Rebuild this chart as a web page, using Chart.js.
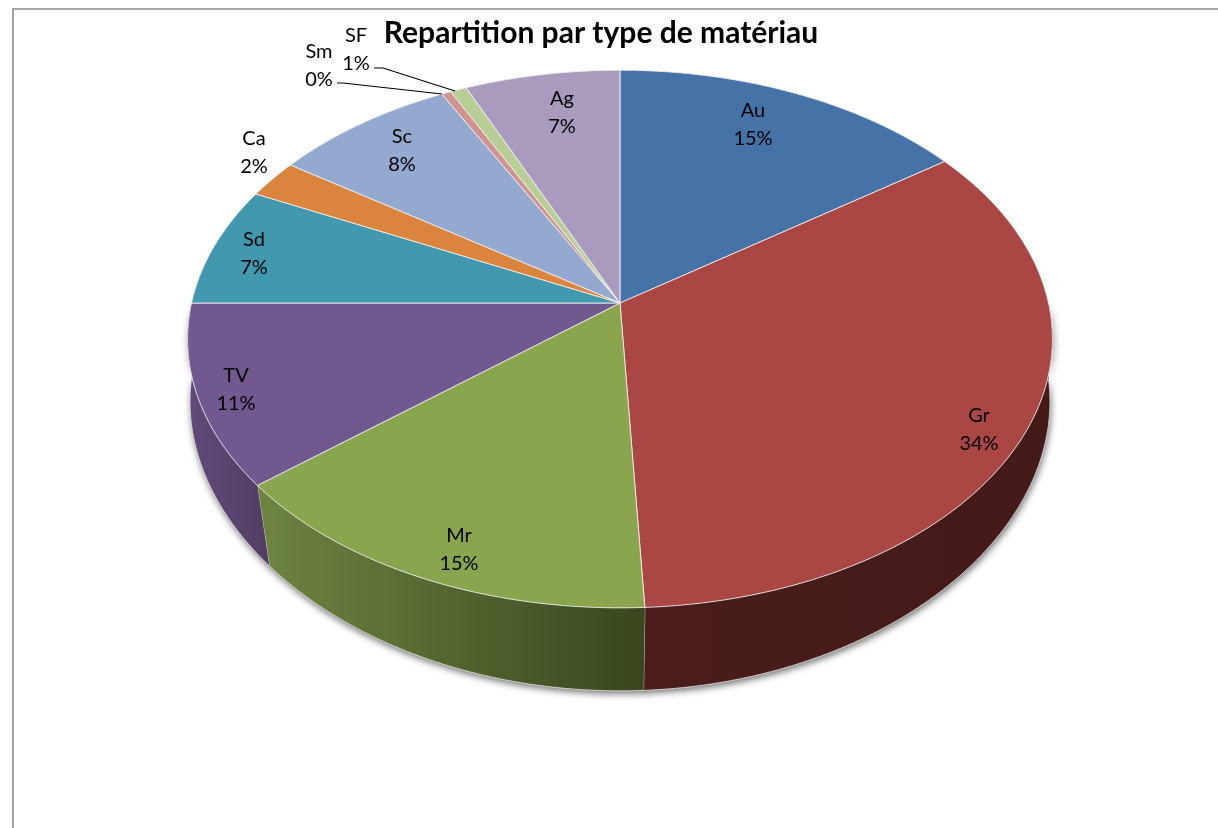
<!DOCTYPE html>
<html lang="fr">
<head>
  <meta charset="UTF-8" />
  <title>Repartition par type de matériau</title>
  <script src="https://cdn.jsdelivr.net/npm/chart.js"></script>
  <style>
    body { margin: 0; background: #fff; overflow: hidden; }
    #frame { position: absolute; left: 12px; top: 8px; right: 0; bottom: 0; border-left: 2px solid #a3a3a3; border-top: 2px solid #a3a3a3; }
    canvas { position: absolute; left: 0; top: 0; }
  </style>
</head>
<body>
  <div id="frame"></div>
  <canvas id="pie" width="1218" height="828"></canvas>

  <script>
    const categories = ['Au', 'Gr', 'Mr', 'TV', 'Sd', 'Ca', 'Sc', 'Sm', 'SF', 'Ag'];
    const shares = [15.2, 34.0, 14.9, 10.9, 7.2, 2.3, 7.8, 0.4, 0.7, 6.6];
    const topColors = ['#4572a7', '#aa4643', '#89a54e', '#71588f', '#4198af', '#db843d', '#93a9cf', '#d19392', '#b9cd96', '#a99bbd'];
    const sideLeft = ['#2c4669', '#4a1d1a', '#6d8340', '#5f4a78', '#28606f', '#8a5326', '#5c6a82', '#83605f', '#74815e', '#6a6177'];
    const sideRight = ['#2c4669', '#441a18', '#39461f', '#513d63', '#28606f', '#8a5326', '#5c6a82', '#83605f', '#74815e', '#6a6177'];

    // tilted disc: perspective on the unit circle
    const cx = 620, cy = 303, A = 428.5, B = 264, K = 0.134;

    function topPoint(t) {
      const X = Math.cos(t), Y = Math.sin(t), w = 1 - K * Y;
      return [cx + A * X / w, cy + B * Y / w];
    }
    function lowPoint(t) {
      const p = topPoint(t), Y = Math.sin(t);
      return [cx + (p[0] - cx) * (1 - 0.052 * Y), p[1] + 76 + 7 * Y];
    }

    // arcs are drawn on the tilted disc instead of a flat circle
    const Arc = Chart.registry.getElement('arc');
    Arc.prototype.draw = function (ctx) {
      const o = this.options;
      const n = Math.max(2, Math.ceil((this.endAngle - this.startAngle) * 60));
      ctx.beginPath();
      ctx.moveTo(cx, cy);
      for (let i = 0; i <= n; i++) {
        const p = topPoint(this.startAngle + (this.endAngle - this.startAngle) * i / n);
        ctx.lineTo(p[0], p[1]);
      }
      ctx.closePath();
      ctx.fillStyle = o.backgroundColor;
      ctx.fill();
      ctx.strokeStyle = o.borderColor;
      ctx.lineWidth = o.borderWidth;
      ctx.stroke();
    };

    function wallPath(ctx, a, b) {
      const n = Math.ceil((b - a) * 60);
      ctx.beginPath();
      for (let i = 0; i <= n; i++) {
        const p = topPoint(a + (b - a) * i / n);
        i ? ctx.lineTo(p[0], p[1]) : ctx.moveTo(p[0], p[1]);
      }
      for (let i = n; i >= 0; i--) {
        const p = lowPoint(a + (b - a) * i / n);
        ctx.lineTo(p[0], p[1]);
      }
      ctx.closePath();
    }

    const wallsPlugin = {
      id: 'walls',
      beforeDatasetsDraw(chart) {
        const ctx = chart.ctx;
        const arcs = chart.getDatasetMeta(0).data;
        const from = 0, to = Math.PI;

        // soft shadow under the whole side
        ctx.save();
        ctx.shadowColor = 'rgba(0,0,0,0.55)';
        ctx.shadowBlur = 7;
        ctx.shadowOffsetX = 1;
        ctx.shadowOffsetY = 3;
        ctx.fillStyle = '#444';
        wallPath(ctx, from, to);
        ctx.fill();
        ctx.restore();

        arcs.forEach((arc, i) => {
          const a = Math.max(arc.startAngle, from), b = Math.min(arc.endAngle, to);
          if (b <= a) return;
          const p1 = lowPoint(a), p2 = lowPoint(b);
          const g = ctx.createLinearGradient(Math.min(p1[0], p2[0]), 0, Math.max(p1[0], p2[0]), 0);
          g.addColorStop(0, sideLeft[i]);
          g.addColorStop(1, sideRight[i]);
          ctx.fillStyle = g;
          wallPath(ctx, a, b);
          ctx.fill();

          // light edge along the bottom rim and at the slice corners
          ctx.strokeStyle = 'rgba(235,235,235,0.8)';
          ctx.lineWidth = 1;
          ctx.beginPath();
          const n = Math.ceil((b - a) * 60);
          for (let k = 0; k <= n; k++) {
            const p = lowPoint(a + (b - a) * k / n);
            k ? ctx.lineTo(p[0], p[1]) : ctx.moveTo(p[0], p[1]);
          }
          ctx.stroke();
          if (arc.endAngle < to) {
            const top = topPoint(arc.endAngle), low = lowPoint(arc.endAngle);
            ctx.beginPath();
            ctx.moveTo(top[0], top[1]);
            ctx.lineTo(low[0], low[1]);
            ctx.stroke();
          }
        });
      }
    };

    // label centres as placed in the original layout
    const labelSpots = {
      Au: [753, 125], Gr: [979, 430], Mr: [459, 550], TV: [236, 390], Sd: [254, 254],
      Ca: [254, 153], Sc: [402, 151], Sm: [319, 66], SF: [356, 50], Ag: [562, 113]
    };
    const leaders = {
      SF: [[374, 68], [383, 68], [455, 91]],
      Sm: [[337, 83], [343, 83], [442, 94]]
    };

    const labelsPlugin = {
      id: 'sliceLabels',
      afterDatasetsDraw(chart) {
        const ctx = chart.ctx;
        const total = shares.reduce((s, v) => s + v, 0);
        ctx.save();
        ctx.font = '20px Lato';
        ctx.fillStyle = '#000';
        ctx.textAlign = 'center';
        ctx.textBaseline = 'middle';
        categories.forEach((name, i) => {
          const spot = labelSpots[name];
          ctx.fillText(name, spot[0], spot[1] - 14);
          ctx.fillText(Math.round(shares[i] / total * 100) + '%', spot[0], spot[1] + 14);
        });
        ctx.strokeStyle = '#000';
        ctx.lineWidth = 1.2;
        Object.values(leaders).forEach(line => {
          ctx.beginPath();
          line.forEach((p, k) => k ? ctx.lineTo(p[0], p[1]) : ctx.moveTo(p[0], p[1]));
          ctx.stroke();
        });
        ctx.restore();
      }
    };

    new Chart(document.getElementById('pie'), {
      type: 'pie',
      data: {
        labels: categories,
        datasets: [{
          data: shares,
          backgroundColor: topColors,
          borderColor: 'rgba(240,240,240,0.85)',
          borderWidth: 1
        }]
      },
      options: {
        responsive: false,
        animation: false,
        events: [],
        layout: { padding: { top: 0, right: 16 } },
        plugins: {
          legend: { display: false },
          tooltip: { enabled: false },
          title: {
            display: true,
            text: 'Repartition par type de matériau',
            color: '#000',
            font: { family: 'Lato', size: 30, weight: 'bold' },
            padding: { top: 15, bottom: 10 }
          }
        }
      },
      plugins: [wallsPlugin, labelsPlugin]
    });
  </script>
</body>
</html>
